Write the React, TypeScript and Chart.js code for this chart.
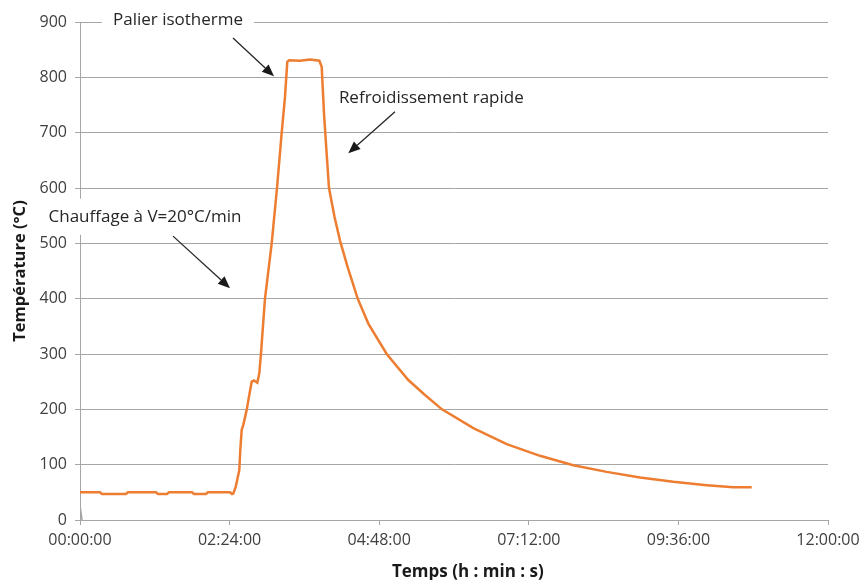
import React, { useEffect, useRef } from "react";
import { Chart, registerables } from "chart.js";

Chart.register(...registerables);

// Time in seconds since start, temperature in °C
const timeSeconds = [
  0, 1155, 1270, 2656, 2772, 4389, 4504, 5024, 5140, 6468, 6584, 7277, 7392, 8663, 8778, 8854,
  8992, 9200, 9258, 9339, 9431, 9627, 9760, 9916, 10049, 10240, 10355, 10454, 10552, 10684,
  11071, 11378, 11649, 11840, 11972, 12071, 12706, 13283, 13821, 13959, 14092, 14207, 14381,
  14698, 15016, 15449, 16038, 16651, 17713, 18961, 19925, 20906, 22715, 24644, 26567, 28490,
  30419, 32342, 34266, 36195, 37731, 38793,
];
const temperature = [
  50, 50, 47, 47, 50, 50, 47, 47, 50, 50, 47, 47, 50, 50, 47, 48,
  60, 90, 127, 163, 172, 199, 223, 250, 252, 248, 265, 301, 344, 400,
  500, 600, 700, 765, 828, 831, 830, 832, 830, 819, 735, 680, 600,
  548, 505, 458, 400, 355, 300, 253, 226, 200, 166, 137, 116, 99,
  87, 77, 69, 63, 59, 59,
];

// Small grey trace at the origin (second series)
const probeTime = [0, 60, 120];
const probeValues = [0, 13, 0];

const xMax = 43200;
const xStep = 8640;
const yMax = 900;
const yStep = 100;

const xAxisTitle = "Temps (h : min : s)";
const yAxisTitle = "Température (°C)";
const xAxisTitleAt = 22400; // seconds, horizontal centre of the title

const annotationTexts = ["Palier isotherme", "Refroidissement rapide", "Chauffage à V=20°C/min"];
const annotationAt = [
  [5660, 904],
  [20290, 762],
  [3754, 548],
];
const arrowFrom = [
  [8836, 871],
  [18191, 738],
  [5371, 513],
];
const arrowTo = [
  [11204, 802],
  [15494, 663],
  [8663, 419],
];

const FONT = "'Open Sans', 'Liberation Sans', sans-serif";

function fmtTime(v: number): string {
  const s = Math.round(Number(v));
  const h = Math.floor(s / 3600);
  const m = Math.floor((s % 3600) / 60);
  const sec = s % 60;
  const p = (n: number) => String(n).padStart(2, "0");
  return `${p(h)}:${p(m)}:${p(sec)}`;
}

const annotationPlugin = {
  id: "annotations",
  beforeDatasetsDraw(chart: any) {
    const { ctx, scales } = chart;
    const x = scales.x;
    const y = scales.y;
    ctx.save();
    ctx.font = `17px ${FONT}`;
    ctx.textAlign = "center";
    ctx.textBaseline = "middle";
    annotationTexts.forEach((t, i) => {
      const cx = x.getPixelForValue(annotationAt[i][0]);
      const cy = y.getPixelForValue(annotationAt[i][1]);
      const w = ctx.measureText(t).width;
      ctx.fillStyle = "#ffffff";
      ctx.fillRect(cx - w / 2 - 11, cy - 18, w + 22, 36);
      ctx.fillStyle = "#262626";
      ctx.fillText(t, cx, cy);

      const x1 = x.getPixelForValue(arrowFrom[i][0]);
      const y1 = y.getPixelForValue(arrowFrom[i][1]);
      const x2 = x.getPixelForValue(arrowTo[i][0]);
      const y2 = y.getPixelForValue(arrowTo[i][1]);
      const ang = Math.atan2(y2 - y1, x2 - x1);
      const headLen = 12;
      const headW = 5;
      const bx = x2 - headLen * Math.cos(ang);
      const by = y2 - headLen * Math.sin(ang);
      ctx.strokeStyle = "#262626";
      ctx.lineWidth = 1.3;
      ctx.beginPath();
      ctx.moveTo(x1, y1);
      ctx.lineTo(bx, by);
      ctx.stroke();
      ctx.fillStyle = "#1a1a1a";
      ctx.beginPath();
      ctx.moveTo(x2, y2);
      ctx.lineTo(bx + headW * Math.sin(ang), by - headW * Math.cos(ang));
      ctx.lineTo(bx - headW * Math.sin(ang), by + headW * Math.cos(ang));
      ctx.closePath();
      ctx.fill();
    });
    ctx.restore();
  },
  afterDraw(chart: any) {
    const { ctx, scales } = chart;
    const x = scales.x;
    ctx.save();
    ctx.font = `bold 17px ${FONT}`;
    ctx.fillStyle = "#1a1a1a";
    ctx.textAlign = "center";
    ctx.textBaseline = "middle";
    ctx.fillText(xAxisTitle, x.getPixelForValue(xAxisTitleAt), chart.height - 8);
    ctx.restore();
  },
};

export default function App() {
  const canvasRef = useRef<HTMLCanvasElement | null>(null);

  useEffect(() => {
    if (!canvasRef.current) return;
    const chart = new Chart(canvasRef.current, {
      type: "line",
      data: {
        datasets: [
          {
            label: "Température",
            data: timeSeconds.map((t, i) => ({ x: t, y: temperature[i] })),
            borderColor: "#ED7D31",
            backgroundColor: "#ED7D31",
            borderWidth: 2.5,
            pointRadius: 0,
            tension: 0,
            fill: false,
          },
          {
            label: "Série 2",
            data: probeTime.map((t, i) => ({ x: t, y: probeValues[i] })),
            borderColor: "#a5a5a5",
            borderWidth: 1.5,
            pointRadius: 0,
            tension: 0,
            fill: false,
          },
        ],
      },
      options: {
        animation: false,
        responsive: false,
        devicePixelRatio: 1,
        layout: { padding: { top: 22, right: 35, left: 0, bottom: 0 } },
        plugins: {
          legend: { display: false },
          tooltip: { enabled: false },
        },
        scales: {
          x: {
            type: "linear",
            min: 0,
            max: xMax,
            afterFit: (s: any) => {
              s.height = 60;
              s.paddingRight = 0;
              s.paddingLeft = 0;
            },
            ticks: {
              stepSize: xStep,
              autoSkip: false,
              maxRotation: 0,
              padding: 6,
              color: "#404040",
              font: { family: FONT, size: 16 },
              callback: (v: any) => fmtTime(v),
            },
            grid: {
              drawOnChartArea: false,
              drawTicks: true,
              tickLength: 5,
              color: "#a6a6a6",
            },
            border: { color: "#a6a6a6", width: 1 },
            title: { display: false, text: xAxisTitle },
          },
          y: {
            type: "linear",
            min: 0,
            max: yMax,
            afterFit: (s: any) => {
              s.width = 80;
            },
            ticks: {
              stepSize: yStep,
              padding: 8,
              color: "#404040",
              font: { family: FONT, size: 16 },
            },
            grid: {
              color: "#a6a6a6",
              tickLength: 5,
              lineWidth: 1,
            },
            border: { color: "#a6a6a6", width: 1 },
            title: {
              display: true,
              text: yAxisTitle,
              color: "#1a1a1a",
              font: { family: FONT, size: 16.5, weight: "bold" },
              padding: { top: 10.5, bottom: 0 },
            },
          },
        },
      },
      plugins: [annotationPlugin],
    });
    return () => chart.destroy();
  }, []);

  return (
    <div style={{ position: "absolute", left: 0, top: 0, width: 863, height: 580, background: "#fff" }}>
      <canvas ref={canvasRef} width={863} height={580} style={{ width: 863, height: 580 }} />
    </div>
  );
}
